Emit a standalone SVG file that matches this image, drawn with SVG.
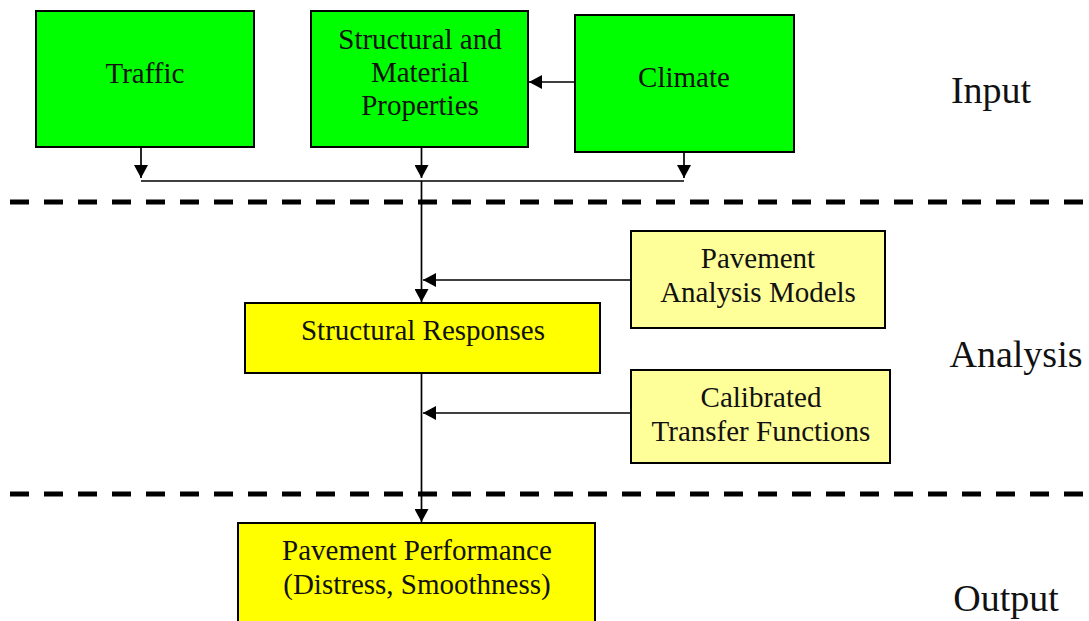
<svg xmlns="http://www.w3.org/2000/svg" width="1089" height="621" viewBox="0 0 1089 621">
<style>
.box{stroke:#000;stroke-width:2}
.g{fill:#00ff00}
.y{fill:#ffff00}
.ly{fill:#ffff99}
text{font-family:"Liberation Serif","Times New Roman","DejaVu Serif",serif;fill:#111;text-anchor:middle}
.bt{font-size:29px}
.lab{font-size:38px}
.c{stroke:#000;stroke-width:1.7;fill:none}
.d{stroke:#000;stroke-width:5;stroke-dasharray:19 15;fill:none}
</style>
<defs>
<marker id="ah" viewBox="0 0 13 14" refX="13" refY="7" markerWidth="13" markerHeight="14" markerUnits="userSpaceOnUse" orient="auto">
<path d="M0,0 L13,7 L0,14 Z" fill="#000"/>
</marker>
</defs>
<rect width="1089" height="621" fill="#fff"/>
<g id="dividers">
<line class="d" x1="10" y1="202" x2="1089" y2="202"/>
<line class="d" x1="10" y1="494" x2="1089" y2="494"/>
</g>
<g id="traffic"><rect class="box g" x="36" y="11" width="218" height="136"/><text class="bt" x="145" y="83">Traffic</text></g>
<g id="structural"><rect class="box g" x="311" y="11" width="217" height="136"/><text class="bt" x="420" y="49">Structural and</text><text class="bt" x="420" y="82">Material</text><text class="bt" x="420" y="115">Properties</text></g>
<g id="climate"><rect class="box g" x="575" y="15" width="219" height="137"/><text class="bt" x="684" y="87">Climate</text></g>
<g id="pam"><rect class="box ly" x="631" y="231" width="254" height="97"/><text class="bt" x="758" y="268">Pavement</text><text class="bt" x="758" y="302">Analysis Models</text></g>
<g id="sr"><rect class="box y" x="245" y="303" width="355" height="70"/><text class="bt" x="423" y="340">Structural Responses</text></g>
<g id="ctf"><rect class="box ly" x="631" y="370" width="259" height="93"/><text class="bt" x="761" y="407">Calibrated</text><text class="bt" x="761" y="441">Transfer Functions</text></g>
<g id="pp"><rect class="box y" x="238" y="523" width="357" height="110"/><text class="bt" x="417" y="560">Pavement Performance</text><text class="bt" x="417" y="594">(Distress, Smoothness)</text></g>
<g id="labels">
<text class="lab" x="991" y="103">Input</text>
<text class="lab" x="1016" y="367">Analysis</text>
<text class="lab" x="1006" y="611">Output</text>
</g>
<g id="connectors">
<line class="c" x1="575" y1="82" x2="529" y2="82" marker-end="url(#ah)"/>
<line class="c" x1="141" y1="147" x2="141" y2="178" marker-end="url(#ah)"/>
<line class="c" x1="421.5" y1="147" x2="421.5" y2="178" marker-end="url(#ah)"/>
<line class="c" x1="684" y1="152" x2="684" y2="178" marker-end="url(#ah)"/>
<line class="c" x1="141" y1="181" x2="684" y2="181"/>
<line class="c" x1="421.5" y1="181" x2="421.5" y2="302" marker-end="url(#ah)"/>
<line class="c" x1="631" y1="280" x2="423" y2="280" marker-end="url(#ah)"/>
<line class="c" x1="421.5" y1="374" x2="421.5" y2="522" marker-end="url(#ah)"/>
<line class="c" x1="631" y1="413" x2="423" y2="413" marker-end="url(#ah)"/>
</g>
</svg>
